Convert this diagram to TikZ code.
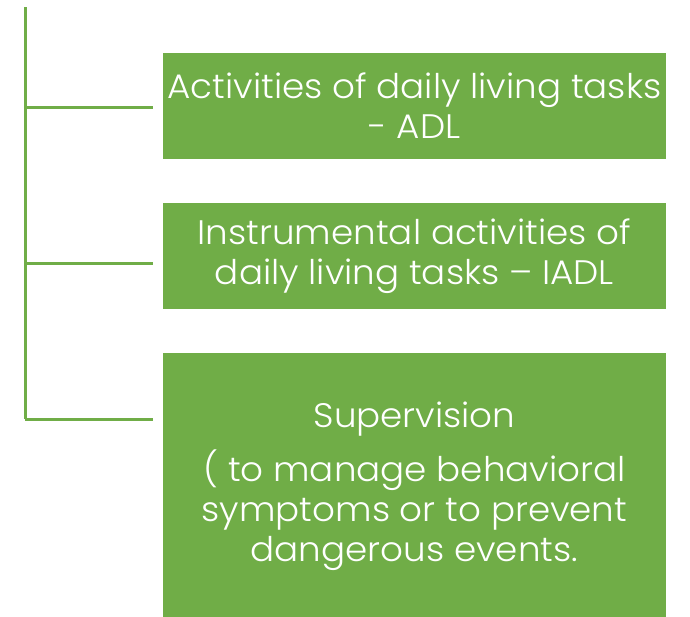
\documentclass[tikz,border=0pt]{standalone}
\usepackage{fontspec}
\setmainfont{Poppins Light}[FakeStretch=1.05]
\definecolor{officegreen}{HTML}{70AD47}
\begin{document}
\begin{tikzpicture}[x=1pt,y=-1pt,
  greenbox/.style={fill=officegreen,draw=none,text=white,minimum width=503pt,align=center,inner sep=0pt,
    font=\fontsize{34}{40}\selectfont},
  branch/.style={draw=officegreen,line width=3pt}]
\useasboundingbox (0,0) rectangle (690,616);
\node[greenbox,minimum height=106pt] (adl) at (414.5,106)
  {Activities of daily living tasks\\- ADL};
\node[greenbox,minimum height=106pt] (iadl) at (414.5,256)
  {Instrumental activities of\\daily living tasks – IADL};
\node[greenbox,minimum height=267pt] (sup) at (414.5,486.5)
  {Supervision\\[12pt]( to manage behavioral\\symptoms or to prevent\\dangerous events.};
\coordinate (top) at (25,7);
\coordinate (t1) at (25,107);
\coordinate (t2) at (25,263);
\coordinate (t3) at (25,419);
\draw[branch] (top) -- (t3);
\draw[branch,shorten >=10pt] (t1) -- (adl.west |- t1);
\draw[branch,shorten >=10pt] (t2) -- (iadl.west |- t2);
\draw[branch,shorten >=10pt] (t3) -- (sup.west |- t3);
\end{tikzpicture}
\end{document}
